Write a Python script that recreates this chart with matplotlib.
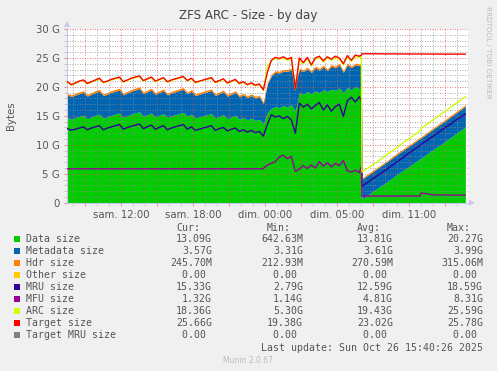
import numpy as np
import matplotlib
matplotlib.use("Agg")
import matplotlib.pyplot as plt
from matplotlib.ticker import MultipleLocator, FuncFormatter
from matplotlib.patches import Rectangle, Polygon

# ---------------- data (GB), time in hours since Saturday 00:00 ----------------
hours_p12 = list(7.5 + np.arange(74) / 3.0) + [32.0]
hours_p3 = [32.05, 33, 34, 35, 36, 36.9, 37.0, 38, 39, 40, 40.67]
hours = np.array(hours_p12 + hours_p3)

data_size = [
    14.7, 14.4, 14.7, 14.9, 15.1, 14.5, 14.8, 15.1, 15.3, 14.6,
    14.8, 15.1, 15.3, 15.5, 14.7, 15.0, 15.3, 15.5, 15.7, 14.9,
    15.2, 15.5, 14.8, 15.1, 15.4, 14.7, 15.0, 15.2, 15.4, 15.6,
    14.9, 15.3, 14.6, 14.8, 15.0, 15.2, 15.4, 14.6, 14.9, 15.2,
    14.5, 14.8, 15.1, 14.4, 14.7, 14.3, 14.6, 14.2, 14.4,
    13.6, 15.5, 16.3, 16.6, 16.4, 16.8, 16.5, 16.9, 15.8, 19.0,
    18.7, 19.2, 18.8, 19.3, 19.0, 19.5, 19.2, 19.6, 19.4, 19.8,
    19.0, 19.9, 19.5, 20.1, 19.7, 19.8,
    0.65, 2.0, 3.4, 4.9, 6.3, 7.6, 7.7, 9.2, 10.6, 12.1, 13.09,
]
metadata_size = [
    3.90, 3.92, 3.90, 3.93, 3.95, 3.91, 3.93, 3.95, 3.96, 3.92,
    3.93, 3.95, 3.96, 3.97, 3.92, 3.94, 3.96, 3.97, 3.98, 3.93,
    3.95, 3.97, 3.92, 3.94, 3.96, 3.91, 3.93, 3.95, 3.96, 3.97,
    3.92, 3.95, 3.90, 3.92, 3.94, 3.95, 3.96, 3.91, 3.93, 3.95,
    3.90, 3.92, 3.94, 3.89, 3.91, 3.88, 3.90, 3.87, 3.89,
    3.5, 5.0, 5.6, 5.9, 6.0, 5.9, 6.2, 6.0, 5.0, 3.9,
    3.95, 3.9, 3.7, 3.98, 3.9, 3.95, 3.6, 3.97, 3.9, 3.95,
    3.5, 3.9, 3.8, 3.7, 3.95, 3.9,
    3.4, 3.42, 3.44, 3.46, 3.48, 3.5, 3.5, 3.52, 3.54, 3.56, 3.57,
]
hdr_size = [
    0.30, 0.29, 0.30, 0.30, 0.31, 0.29, 0.30, 0.30, 0.31, 0.29,
    0.30, 0.30, 0.31, 0.31, 0.29, 0.30, 0.30, 0.31, 0.31, 0.29,
    0.30, 0.31, 0.29, 0.30, 0.30, 0.29, 0.30, 0.30, 0.31, 0.31,
    0.29, 0.30, 0.29, 0.30, 0.30, 0.30, 0.31, 0.29, 0.30, 0.30,
    0.29, 0.30, 0.30, 0.29, 0.29, 0.28, 0.29, 0.28, 0.29,
    0.28, 0.29, 0.30, 0.30, 0.31, 0.30, 0.31, 0.30, 0.28, 0.30,
    0.30, 0.31, 0.29, 0.31, 0.30, 0.31, 0.29, 0.31, 0.30, 0.31,
    0.29, 0.31, 0.30, 0.31, 0.31, 0.31,
    0.213, 0.22, 0.225, 0.23, 0.233, 0.236, 0.237, 0.24, 0.243, 0.245, 0.246,
]
mru_size = [
    12.8, 12.5, 12.7, 12.9, 13.1, 12.6, 12.9, 13.1, 13.3, 12.6,
    12.9, 13.1, 13.3, 13.5, 12.7, 13.0, 13.2, 13.4, 13.6, 12.8,
    13.1, 13.4, 12.7, 13.0, 13.3, 12.6, 12.9, 13.1, 13.3, 13.5,
    12.7, 13.1, 12.5, 12.7, 12.9, 13.1, 13.3, 12.5, 12.8, 13.0,
    12.4, 12.7, 12.9, 12.3, 12.6, 12.2, 12.5, 12.1, 12.3,
    11.5, 13.5, 15.2, 14.8, 15.0, 14.5, 14.9, 14.3, 12.0, 17.2,
    16.5, 17.0, 16.2, 16.8, 17.3, 16.0, 16.9, 15.8, 16.6, 17.0,
    14.9, 17.6, 18.2, 17.4, 18.3, 17.6,
    2.8, 4.2, 5.6, 7.1, 8.6, 9.9, 10.1, 11.5, 13.0, 14.4, 15.33,
]
mfu_size = [
    5.85, 5.85, 5.85, 5.85, 5.85, 5.85, 5.85, 5.85, 5.85, 5.85,
    5.85, 5.85, 5.85, 5.85, 5.85, 5.85, 5.85, 5.85, 5.85, 5.85,
    5.85, 5.85, 5.85, 5.85, 5.85, 5.85, 5.85, 5.85, 5.85, 5.85,
    5.85, 5.85, 5.85, 5.85, 5.85, 5.85, 5.85, 5.85, 5.85, 5.85,
    5.85, 5.85, 5.85, 5.85, 5.85, 5.85, 5.85, 5.85, 5.85,
    5.9, 6.5, 6.8, 7.1, 7.9, 8.2, 7.6, 8.0, 5.4, 5.8,
    6.4, 5.9, 6.5, 6.0, 7.1, 6.3, 6.9, 6.2, 6.8, 6.4,
    7.3, 5.5, 5.3, 5.6, 5.2, 6.3,
    1.14, 1.15, 1.15, 1.15, 1.16, 1.16, 1.7, 1.35, 1.33, 1.32, 1.32,
]
arc_size = [
    20.8, 20.3, 20.6, 20.9, 21.1, 20.5, 20.8, 21.1, 21.4, 20.7,
    20.9, 21.2, 21.4, 21.6, 20.8, 21.1, 21.4, 21.6, 21.8, 21.0,
    21.3, 21.6, 20.9, 21.2, 21.5, 20.8, 21.1, 21.3, 21.5, 21.7,
    21.0, 21.4, 20.7, 20.9, 21.1, 21.3, 21.5, 20.7, 21.0, 21.3,
    20.6, 20.9, 21.2, 20.5, 20.8, 20.3, 20.6, 20.2, 20.4,
    19.4, 23.5, 24.5, 24.9, 24.8, 25.0, 24.6, 24.9, 19.5, 24.8,
    24.0, 24.9, 23.6, 24.8, 25.1, 24.3, 25.0, 24.6, 25.1, 24.8,
    23.8, 25.2, 24.4, 25.3, 25.1, 25.4,
    5.3, 6.6, 8.1, 9.6, 11.1, 12.4, 12.9, 14.3, 15.8, 17.3, 18.36,
]
target_size = [
    20.9, 20.4, 20.7, 21.0, 21.2, 20.6, 20.9, 21.2, 21.5, 20.8,
    21.0, 21.3, 21.5, 21.7, 20.9, 21.2, 21.5, 21.7, 21.9, 21.1,
    21.4, 21.7, 21.0, 21.3, 21.6, 20.9, 21.2, 21.4, 21.6, 21.8,
    21.1, 21.5, 20.8, 21.0, 21.2, 21.4, 21.6, 20.8, 21.1, 21.4,
    20.7, 21.0, 21.3, 20.6, 20.9, 20.4, 20.7, 20.3, 20.5,
    19.5, 22.5, 24.6, 25.1, 24.9, 25.2, 24.8, 25.1, 19.6, 25.0,
    24.2, 25.1, 23.8, 25.0, 25.3, 24.5, 25.2, 24.8, 25.3, 25.0,
    24.0, 25.4, 24.6, 25.5, 25.3, 25.5,
    25.72, 25.72, 25.70, 25.70, 25.68, 25.68, 25.68, 25.67, 25.66, 25.66, 25.66,
]

tick_hours = [12, 18, 24, 30, 36]
tick_labels = ["sam. 12:00", "sam. 18:00", "dim. 00:00", "dim. 05:00", "dim. 11:00"]
y_ticks = [0, 5, 10, 15, 20, 25, 30]
y_labels = ["0", "5 G", "10 G", "15 G", "20 G", "25 G", "30 G"]

legend_names = ["Data size", "Metadata size", "Hdr size", "Other size", "MRU size",
                "MFU size", "ARC size", "Target size", "Target MRU size"]
legend_colors = ["#00CC00", "#0066B3", "#FF8000", "#FFCC00", "#330099",
                 "#990099", "#CCFF00", "#FF0000", "#808080"]
cur_vals = ["13.09G", "3.57G", "245.70M", "0.00 ", "15.33G", "1.32G", "18.36G", "25.66G", "0.00 "]
min_vals = ["642.63M", "3.31G", "212.93M", "0.00 ", "2.79G", "1.14G", "5.30G", "19.38G", "0.00 "]
avg_vals = ["13.81G", "3.61G", "270.59M", "0.00 ", "12.59G", "4.81G", "19.43G", "23.02G", "0.00 "]
max_vals = ["20.27G", "3.99G", "315.06M", "0.00 ", "18.59G", "8.31G", "25.59G", "25.78G", "0.00 "]

# ---------------- figure ----------------
W, H = 497, 371
fig = plt.figure(figsize=(W / 100, H / 100), dpi=100, facecolor="#F0F0F0")
x0, x1, ytop, ybot = 67, 468, 29, 202.7
ax = fig.add_axes([x0 / W, (H - ybot) / H, (x1 - x0) / W, (ybot - ytop) / H])
ax.set_facecolor("white")

d = np.array(data_size)
m = np.array(metadata_size)
h = np.array(hdr_size)
ax.fill_between(hours, 0, d, color=legend_colors[0], lw=0, zorder=1)
ax.fill_between(hours, d, d + m, color=legend_colors[1], lw=0, zorder=1)
ax.fill_between(hours, d + m, d + m + h, color=legend_colors[2], lw=0, zorder=1)
ax.plot(hours, mru_size, color=legend_colors[4], lw=1.0, zorder=3)
ax.plot(hours, mfu_size, color=legend_colors[5], lw=1.0, zorder=3)
ax.plot(hours, arc_size, color=legend_colors[6], lw=1.0, zorder=3)
ax.plot(hours, target_size, color=legend_colors[7], lw=1.0, zorder=3)

ax.set_xlim(7.47, 40.89)
ax.set_ylim(0, 30)

# grid
ax.xaxis.set_major_locator(MultipleLocator(3))
ax.xaxis.set_minor_locator(MultipleLocator(1))
ax.yaxis.set_major_locator(MultipleLocator(5))
ax.yaxis.set_minor_locator(MultipleLocator(1))
ax.grid(which="minor", color=(0.55, 0.55, 0.55, 0.25), linestyle=(0, (1, 2)), lw=0.6)
ax.grid(which="major", color=(0.9, 0.3, 0.3, 0.35), linestyle=(0, (1, 2)), lw=0.6)
ax.set_axisbelow(False)

lab = dict(zip(tick_hours, tick_labels))
ax.xaxis.set_major_formatter(FuncFormatter(lambda v, p: lab.get(int(round(v)), "")))
ylab = dict(zip(y_ticks, y_labels))
ax.yaxis.set_major_formatter(FuncFormatter(lambda v, p: ylab.get(int(round(v)), "")))
ax.tick_params(which="both", labelsize=7.3, colors="#555555", length=2, width=0.6, pad=3)
ax.tick_params(which="major", color="#E08080")
ax.tick_params(which="minor", color="#C0C0C0")
for s in ["top", "right"]:
    ax.spines[s].set_visible(False)
for s in ["left", "bottom"]:
    ax.spines[s].set_color("#C8C8E8")
    ax.spines[s].set_linewidth(0.8)

# axis arrows
fig.add_artist(Polygon([[(x0 - 3) / W, (H - 27) / H], [(x0 + 3) / W, (H - 27) / H], [x0 / W, (H - 21) / H]],
                       closed=True, transform=fig.transFigure, color="#C8C8E8", lw=0))
fig.add_artist(Polygon([[469 / W, (H - ybot + 3) / H], [469 / W, (H - ybot - 3) / H], [475 / W, (H - ybot) / H]],
                       closed=True, transform=fig.transFigure, color="#C8C8E8", lw=0))


def fx(px):
    return px / W


def fy(py):
    return 1 - py / H


fig.text(fx(248), fy(16), "ZFS ARC - Size - by day", ha="center", va="center",
         fontsize=8.6, color="#444444")
fig.text(fx(11), fy(116), "Bytes", ha="center", va="center", rotation=90,
         fontsize=7.3, color="#555555")
fig.text(fx(488), fy(52), "RRDTOOL / TOBI OETIKER", ha="center", va="center",
         rotation=270, fontsize=5.2, color="#BBBBBB")

mono = dict(family="DejaVu Sans Mono", fontsize=7.15, color="#555555", va="center")
for hx, txt in zip([176, 267, 357, 447], ["Cur:", "Min:", "Avg:", "Max:"]):
    fig.text(fx(hx), fy(228.3), txt, ha="left", **mono)
for i, name in enumerate(legend_names):
    yy = 239.3 + 12 * i
    fig.add_artist(Rectangle((fx(14), fy(yy + 3)), 6 / W, 6 / H, transform=fig.transFigure,
                             color=legend_colors[i], lw=0))
    fig.text(fx(26), fy(yy), name, ha="left", **mono)
    for cx, vals in zip([212, 303, 393, 483], [cur_vals, min_vals, avg_vals, max_vals]):
        fig.text(fx(cx), fy(yy), vals[i], ha="right", **mono)
fig.text(fx(483), fy(347.7), "Last update: Sun Oct 26 15:40:26 2025", ha="right", **mono)
fig.text(fx(248), fy(360.7), "Munin 2.0.67", ha="center", va="center", fontsize=5.5, color="#BBBBBB")

fig.savefig("out.png", dpi=100, facecolor=fig.get_facecolor())
